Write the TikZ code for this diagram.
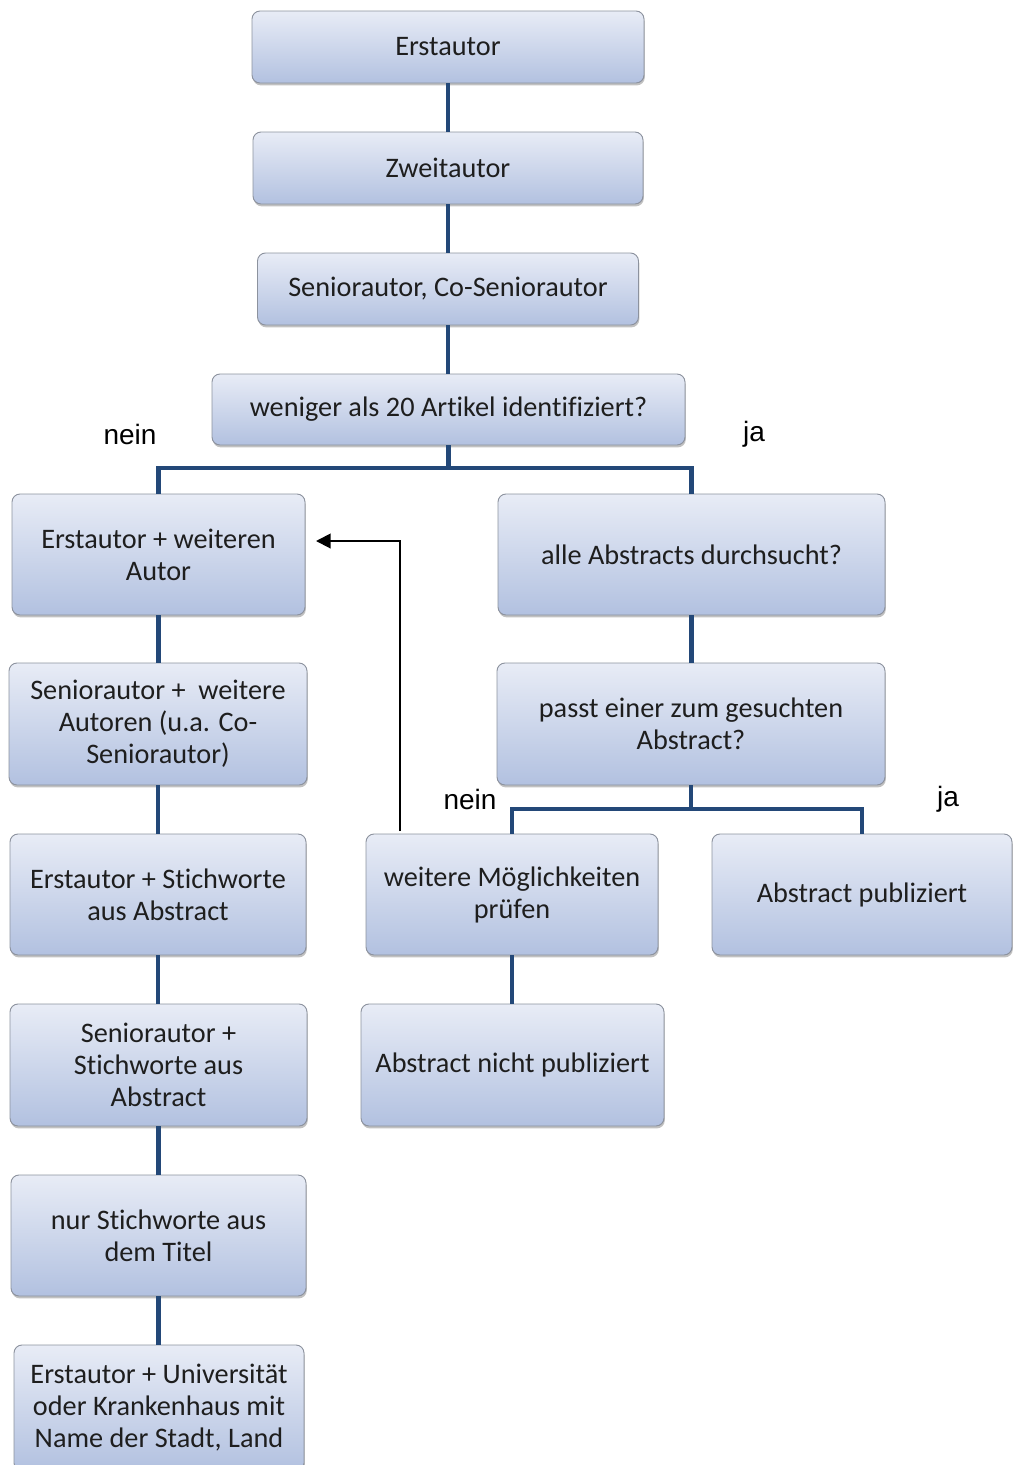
\documentclass[tikz,border=0pt]{standalone}
\usepackage{fontspec}
\setmainfont{Carlito}[Ligatures={NoCommon}]
\newfontfamily\arialf{Liberation Sans}
\usetikzlibrary{shadows,arrows.meta}
\definecolor{conn}{RGB}{35,72,120}
\definecolor{boxtop}{RGB}{232,236,246}
\definecolor{boxbot}{RGB}{178,193,224}
\definecolor{boxline}{RGB}{140,146,158}
\definecolor{txt}{RGB}{30,30,30}
\tikzset{
  bx/.style 2 args={draw=boxline, line width=0.7pt, rounded corners=6pt,
    top color=boxtop, bottom color=boxbot, text=txt,
    minimum width=#1*0.75pt, minimum height=#2*0.75pt, inner sep=0pt,
    align=center, font=\fontsize{21.2pt}{24pt}\selectfont,
    drop shadow={shadow xshift=0.6pt, shadow yshift=-1.8pt, opacity=0.35, fill=black!70}},
  cn/.style={draw=conn, line width=3.2pt},
  fb/.style={draw=black, line width=1.5pt, -{Triangle[length=11pt,width=11pt]}},
  lbl/.style={font=\arialf\fontsize{21pt}{24pt}\selectfont, text=black, inner sep=0pt}
}
\begin{document}
\begin{tikzpicture}[x=0.75pt,y=-0.75pt]
\useasboundingbox (0,0) rectangle (1013,1465);
\node[bx={392}{72}] (n1) at (448,47) {Erstautor};
\node[bx={390}{72}] (n2) at (448,168) {Zweitautor};
\node[bx={381}{72}] (n3) at (448,289) {Seniorautor, Co-Seniorautor};
\node[bx={473}{71}] (n4) at (448.5,409.5) {weniger als 20 Artikel identifiziert?};
\node[bx={293}{121}] (n5) at (158.5,554.5) {Erstautor + weiteren\\Autor};
\node[bx={387}{121}] (n6) at (691.5,554.5) {alle Abstracts durchsucht?};
\node[bx={298}{122}] (n7) at (158,724) {Seniorautor +\ \ weitere\\Autoren (u.a. Co-\\Seniorautor)};
\node[bx={388}{122}] (n8) at (691,724) {passt einer zum gesuchten\\Abstract?};
\node[bx={296}{121}] (n9) at (158,894.5) {Erstautor + Stichworte\\aus Abstract};
\node[bx={292}{121}] (n10) at (512,894.5) {weitere Möglichkeiten\\prüfen};
\node[bx={300}{121}] (n11) at (862,894.5) {Abstract publiziert};
\node[bx={297}{122}] (n12) at (158.5,1065) {Seniorautor +\\Stichworte aus\\Abstract};
\node[bx={303}{122}] (n13) at (512.5,1065) {Abstract nicht publiziert};
\node[bx={295}{121}] (n14) at (158.5,1235.5) {nur Stichworte aus\\dem Titel};
\node[bx={290}{126}] (n15) at (159,1408) {Erstautor + Universität\\oder Krankenhaus mit\\Name der Stadt, Land};

\node[lbl] (l1) at (130,434) {nein};
\node[lbl] (l2) at (754,434) {ja};
\node[lbl] (l3) at (470,799) {nein};
\node[lbl] (l4) at (948,799) {ja};

\coordinate (j1) at (448.5,468);
\coordinate (j2) at (691,809);
\coordinate (a1) at (400,831);
\coordinate (a2) at (316,541);

\draw[cn] (n1.south) -- (n1.south |- n2.north);
\draw[cn] (n2.south) -- (n2.south |- n3.north);
\draw[cn] (n3.south) -- (n3.south |- n4.north);
\draw[cn] (n4.south) -- (j1);
\draw[cn] (n5.north) |- (j1) -| (n6.north);
\draw[cn] (n5.south) -- (n5.south |- n7.north);
\draw[cn] (n7.south) -- (n7.south |- n9.north);
\draw[cn] (n9.south) -- (n9.south |- n12.north);
\draw[cn] (n12.south) -- (n12.south |- n14.north);
\draw[cn] (n14.south) -- (n14.south |- n15.north);
\draw[cn] (n6.south) -- (n6.south |- n8.north);
\draw[cn] (n8.south) -- (j2);
\draw[cn] (n10.north) |- (j2) -| (n11.north);
\draw[cn] (n10.south) -- (n10.south |- n13.north);
\draw[fb] (a1) |- (a2);
\end{tikzpicture}
\end{document}
